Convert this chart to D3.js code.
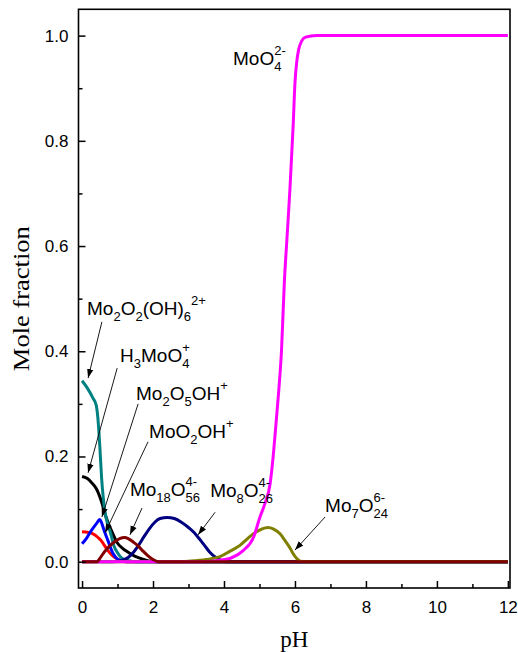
<!DOCTYPE html>
<html>
<head>
<meta charset="utf-8">
<script src="https://cdn.jsdelivr.net/npm/d3@7"></script>
<style>
  body { margin: 0; background: #fff; }
</style>
</head>
<body>
<div id="chart"></div>
<script>
const width = 518;
const height = 652;

// species curves, [pH, mole fraction]
const mo2o2oh6 = [[0,0.344],[0.15,0.33],[0.3,0.312],[0.4,0.297],[0.45,0.27],[0.5,0.22],[0.55,0.16],[0.6,0.12],[0.65,0.093],[0.72,0.072],[0.8,0.055],[0.9,0.03],[1.0,0.017],[1.1,0.008],[1.25,0.003],[1.4,0.001],[1.6,0],[12,0]];
const h3moo4 = [[0,0.162],[0.15,0.158],[0.26,0.151],[0.4,0.139],[0.54,0.116],[0.68,0.084],[0.83,0.059],[1.0,0.035],[1.15,0.025],[1.3,0.018],[1.5,0.01],[1.66,0.006],[1.85,0.002],[2.1,0],[12,0]];
const mo2o5oh = [[0,0.034],[0.13,0.045],[0.26,0.059],[0.4,0.072],[0.5,0.08],[0.55,0.074],[0.62,0.06],[0.73,0.04],[0.87,0.016],[1.0,0.005],[1.15,0.001],[1.3,0],[12,0]];
const moo2oh = [[0,0.057],[0.15,0.056],[0.31,0.053],[0.45,0.046],[0.54,0.04],[0.63,0.031],[0.73,0.021],[0.85,0.012],[0.97,0.006],[1.1,0.002],[1.25,0],[12,0]];
const mo18o56 = [[0,0],[0.42,0],[0.5,0.006],[0.59,0.015],[0.7,0.024],[0.78,0.03],[0.92,0.038],[1.06,0.044],[1.2,0.046],[1.3,0.044],[1.45,0.037],[1.58,0.03],[1.72,0.02],[1.86,0.011],[2.0,0.004],[2.15,0],[12,0]];
const mo8o26 = [[0,0],[0.9,0],[1.1,0.002],[1.3,0.008],[1.45,0.018],[1.6,0.032],[1.75,0.048],[1.9,0.063],[2.05,0.075],[2.2,0.082],[2.4,0.084],[2.6,0.082],[2.8,0.075],[3.0,0.065],[3.15,0.056],[3.3,0.044],[3.45,0.031],[3.6,0.018],[3.75,0.009],[3.9,0.003],[4.05,0],[12,0]];
const mo7o24 = [[0,0],[2.5,0],[3.0,0.001],[3.5,0.004],[3.9,0.01],[4.17,0.02],[4.45,0.031],[4.65,0.043],[4.83,0.053],[5.0,0.06],[5.24,0.065],[5.4,0.062],[5.58,0.053],[5.72,0.04],[5.86,0.026],[5.95,0.015],[6.05,0.006],[6.15,0.001],[6.3,0],[12,0]];
const moo4 = [[0,0],[3.4,0],[3.8,0.002],[4.2,0.007],[4.54,0.021],[4.83,0.046],[5.01,0.084],[5.15,0.11],[5.3,0.148],[5.4,0.21],[5.48,0.274],[5.56,0.34],[5.62,0.4],[5.7,0.53],[5.78,0.62],[5.86,0.71],[5.95,0.83],[6.0,0.91],[6.05,0.95],[6.1,0.972],[6.19,0.99],[6.3,0.997],[6.6,1.0],[12,1.0]];

const xTicks = [0, 2, 4, 6, 8, 10, 12];
const xMinor = [1, 3, 5, 7, 9, 11];
const yTicks = [0, 0.2, 0.4, 0.6, 0.8, 1.0];
const yMinor = [0.1, 0.3, 0.5, 0.7, 0.9];

// draw order: later ones on top
const series = [
    {data: moo2oh, color: "#ff0000"},
    {data: mo2o5oh, color: "#0000ff"},
    {data: h3moo4, color: "#000000"},
    {data: mo2o2oh6, color: "#008080"},
    {data: mo8o26, color: "#000080"},
    {data: mo7o24, color: "#808000"},
    {data: moo4, color: "#ff00ff"},
    {data: mo18o56, color: "#800000"}
];

// labels: [x, y (baseline, data units), parts]
const labels = [
    [4.255, 0.944, [["MoO"], ["4", "sub", "2-"]]],
    [0.14, 0.469, [["Mo"], ["2", "sub"], ["O"], ["2", "sub"], ["(OH)"], ["6", "sub"], ["2+", "sup"]]],
    [1.07, 0.380, [["H"], ["3", "sub"], ["MoO"], ["4", "sub", "+"]]],
    [1.52, 0.307, [["Mo"], ["2", "sub"], ["O"], ["5", "sub"], ["OH"], ["+", "sup"]]],
    [1.89, 0.235, [["MoO"], ["2", "sub"], ["OH"], ["+", "sup"]]],
    [1.35, 0.125, [["Mo"], ["18", "sub"], ["O"], ["56", "sub", "4-"]]],
    [3.61, 0.123, [["Mo"], ["8", "sub"], ["O"], ["26", "sub", "4-"]]],
    [6.85, 0.094, [["Mo"], ["7", "sub"], ["O"], ["24", "sub", "6-"]]]
];

// arrows: [x1, y1, x2, y2] in data units
const arrows = [
    [0.56, 0.456, 0.17, 0.349],
    [0.99, 0.368, 0.17, 0.169],
    [1.58, 0.300, 0.56, 0.085],
    [1.86, 0.228, 0.65, 0.055],
    [1.69, 0.102, 1.35, 0.051],
    [3.75, 0.094, 3.27, 0.051],
    [6.85, 0.085, 6.0, 0.022]
];

const xScale = d3.scaleLinear().domain([-0.1, 12.06]).range([78.5, 510]);
const yScale = d3.scaleLinear().domain([-0.05, 1.05]).range([588, 9.3]);

const svg = d3.select("#chart").append("svg").attr("width", width).attr("height", height);

const sans = "'Liberation Sans', Arial, sans-serif";
const serif = "'Liberation Serif', 'Times New Roman', serif";

svg.append("defs").append("marker")
    .attr("id", "arrow")
    .attr("viewBox", "0 0 10 10")
    .attr("refX", 10).attr("refY", 5)
    .attr("markerWidth", 9).attr("markerHeight", 9)
    .attr("markerUnits", "userSpaceOnUse")
    .attr("orient", "auto")
    .append("path").attr("d", "M0,1.5L10,5L0,8.5z").attr("fill", "#000");

// clip curves to the frame
svg.append("clipPath").attr("id", "clip").append("rect")
    .attr("x", 78.5).attr("y", 9.3).attr("width", 510 - 78.5).attr("height", 588 - 9.3);

const line = d3.line()
    .x(d => xScale(d[0]))
    .y(d => yScale(d[1]))
    .curve(d3.curveMonotoneX);

const curves = svg.append("g").attr("clip-path", "url(#clip)");
series.forEach(s => {
    curves.append("path")
        .datum(s.data)
        .attr("fill", "none")
        .attr("stroke", s.color)
        .attr("stroke-width", 3)
        .attr("stroke-linejoin", "round")
        .attr("d", line);
});

// axes with inward ticks
svg.append("g").attr("transform", `translate(0,${yScale.range()[0]})`)
    .call(d3.axisBottom(xScale).tickValues(xTicks).tickSizeInner(-7).tickSizeOuter(0).tickPadding(13).tickFormat(d3.format("d")));
svg.append("g").attr("transform", `translate(0,${yScale.range()[0]})`)
    .call(d3.axisBottom(xScale).tickValues(xMinor).tickSizeInner(-4).tickSizeOuter(0).tickFormat(""));
svg.append("g").attr("transform", `translate(${xScale.range()[0]},0)`)
    .call(d3.axisLeft(yScale).tickValues(yTicks).tickSizeInner(-7).tickSizeOuter(0).tickPadding(10).tickFormat(d3.format(".1f")));
svg.append("g").attr("transform", `translate(${xScale.range()[0]},0)`)
    .call(d3.axisLeft(yScale).tickValues(yMinor).tickSizeInner(-4).tickSizeOuter(0).tickFormat(""));

svg.selectAll(".domain").remove();
svg.selectAll(".tick line").attr("stroke", "#000").attr("stroke-width", 1.5);
svg.selectAll(".tick text").attr("font-family", sans).attr("font-size", 17).attr("fill", "#000");

// frame
svg.append("rect")
    .attr("x", xScale.range()[0]).attr("y", yScale.range()[1])
    .attr("width", xScale.range()[1] - xScale.range()[0])
    .attr("height", yScale.range()[0] - yScale.range()[1])
    .attr("fill", "none").attr("stroke", "#000").attr("stroke-width", 1.6);

// axis titles
svg.append("text")
    .attr("x", (xScale.range()[0] + xScale.range()[1]) / 2).attr("y", 647)
    .attr("text-anchor", "middle")
    .attr("font-family", serif).attr("font-size", 23)
    .text("pH");

svg.append("text")
    .attr("transform", `translate(29,${(yScale.range()[0] + yScale.range()[1]) / 2}) rotate(-90)`)
    .attr("text-anchor", "middle")
    .attr("font-family", serif).attr("font-size", 23)
    .attr("textLength", 145).attr("lengthAdjust", "spacingAndGlyphs")
    .text("Mole fraction");

// arrows
arrows.forEach(a => {
    svg.append("line")
        .attr("x1", xScale(a[0])).attr("y1", yScale(a[1]))
        .attr("x2", xScale(a[2])).attr("y2", yScale(a[3]))
        .attr("stroke", "#000").attr("stroke-width", 0.9)
        .attr("marker-end", "url(#arrow)");
});

// chemical formula labels
function richLabel(x, y, parts) {
    let cx = x;
    const g = svg.append("g").attr("font-family", sans).attr("fill", "#000");
    parts.forEach(p => {
        if (!p[1]) {
            const t = g.append("text").attr("x", cx).attr("y", y).attr("font-size", 19).text(p[0]);
            cx += t.node().getComputedTextLength();
        } else if (p[1] === "sub") {
            const t = g.append("text").attr("x", cx).attr("y", y + 6).attr("font-size", 13).text(p[0]);
            let w = t.node().getComputedTextLength();
            if (p[2]) {
                const s = g.append("text").attr("x", cx).attr("y", y - 10).attr("font-size", 13).text(p[2]);
                w = Math.max(w, s.node().getComputedTextLength());
            }
            cx += w;
        } else {
            const s = g.append("text").attr("x", cx).attr("y", y - 10).attr("font-size", 13).text(p[0]);
            cx += s.node().getComputedTextLength();
        }
    });
}

labels.forEach(l => richLabel(xScale(l[0]), yScale(l[1]), l[2]));
</script>
</body>
</html>
